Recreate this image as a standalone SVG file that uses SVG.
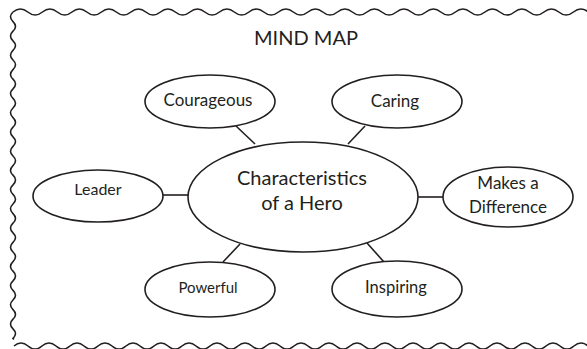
<svg xmlns="http://www.w3.org/2000/svg" width="587" height="349" viewBox="0 0 587 349">
<style>
.n{fill:#fff;stroke:#231f20;stroke-width:1.6}
.t{font-family:Lato,"Open Sans","DejaVu Sans",sans-serif;fill:#231f20;text-anchor:middle}
.c line{stroke:#231f20;stroke-width:1.6}
.b{fill:none;stroke:#231f20;stroke-width:1.6}
</style>
<rect width="587" height="349" fill="#fff"/>
<g id="border">
<path class="b" d="M13,12 q7.4,-6 14.75,0 t14.75,0 t14.75,0 t14.75,0 t14.75,0 t14.75,0 t14.75,0 t14.75,0 t14.75,0 t14.75,0 t14.75,0 t14.75,0 t14.75,0 t14.75,0 t14.75,0 t14.75,0 t14.75,0 t14.75,0 t14.75,0 t14.75,0 t14.75,0 t14.75,0 t14.75,0 t14.75,0 t14.75,0 t14.75,0 t14.75,0 t14.75,0 t14.75,0 t14.75,0 t14.75,0 t14.75,0 t14.75,0 t14.75,0 t14.75,0 t14.75,0 t14.75,0 t14.75,0 t14.75,0 t14.75,0"/>
<path class="b" d="M13,12 q-5,4.8 0,9.6 t0,9.6 t0,9.6 t0,9.6 t0,9.6 t0,9.6 t0,9.6 t0,9.6 t0,9.6 t0,9.6 t0,9.6 t0,9.6 t0,9.6 t0,9.6 t0,9.6 t0,9.6 t0,9.6 t0,9.6 t0,9.6 t0,9.6 t0,9.6 t0,9.6 t0,9.6 t0,9.6 t0,9.6 t0,9.6 t0,9.6 t0,9.6 t0,9.6 t0,9.6 t0,9.6 t0,9.6 t0,9.6 t0,9.6 l1,1"/>
<path class="b" d="M14,346 q7,-6 14,0 t14,0 t14,0 t14,0 t14,0 t14,0 t14,0 t14,0 t14,0 t14,0 t14,0 t14,0 t14,0 t14,0 t14,0 t14,0 t14,0 t14,0 t14,0 t14,0 t14,0 t14,0 t14,0 t14,0 t14,0 t14,0 t14,0 t14,0 t14,0 t14,0 t14,0 t14,0 t14,0 t14,0 t14,0 t14,0 t14,0 t14,0 t14,0 t14,0 t14,0 t14,0"/>
</g>
<text class="t" x="306" y="45" font-size="20">MIND MAP</text>
<g class="c" id="connectors">
<line x1="236" y1="126" x2="255" y2="144"/>
<line x1="365" y1="126" x2="348" y2="144"/>
<line x1="163" y1="195" x2="188" y2="195"/>
<line x1="418" y1="197" x2="443" y2="197"/>
<line x1="223" y1="262" x2="240" y2="244"/>
<line x1="367" y1="243" x2="384" y2="262"/>
</g>
<g id="center">
<ellipse class="n" cx="303" cy="197" rx="115" ry="55"/>
<text class="t" x="302" y="185" font-size="20">Characteristics</text>
<text class="t" x="302" y="210" font-size="20">of a Hero</text>
</g>
<g id="courageous">
<ellipse class="n" cx="210" cy="101.5" rx="65" ry="26.5"/>
<text class="t" x="208" y="106" font-size="17">Courageous</text>
</g>
<g id="caring">
<ellipse class="n" cx="397" cy="101.5" rx="65" ry="26.5"/>
<text class="t" x="395" y="107" font-size="17">Caring</text>
</g>
<g id="leader">
<ellipse class="n" cx="98" cy="196" rx="65" ry="26"/>
<text class="t" x="98" y="195" font-size="16">Leader</text>
</g>
<g id="difference">
<ellipse class="n" cx="508" cy="197" rx="65" ry="30"/>
<text class="t" x="508" y="189" font-size="17">Makes a</text>
<text class="t" x="508" y="213" font-size="17">Difference</text>
</g>
<g id="powerful">
<ellipse class="n" cx="210" cy="289.5" rx="65" ry="27.5"/>
<text class="t" x="208" y="293" font-size="15">Powerful</text>
</g>
<g id="inspiring">
<ellipse class="n" cx="397" cy="289" rx="65" ry="28"/>
<text class="t" x="396" y="293" font-size="16.5">Inspiring</text>
</g>
</svg>
